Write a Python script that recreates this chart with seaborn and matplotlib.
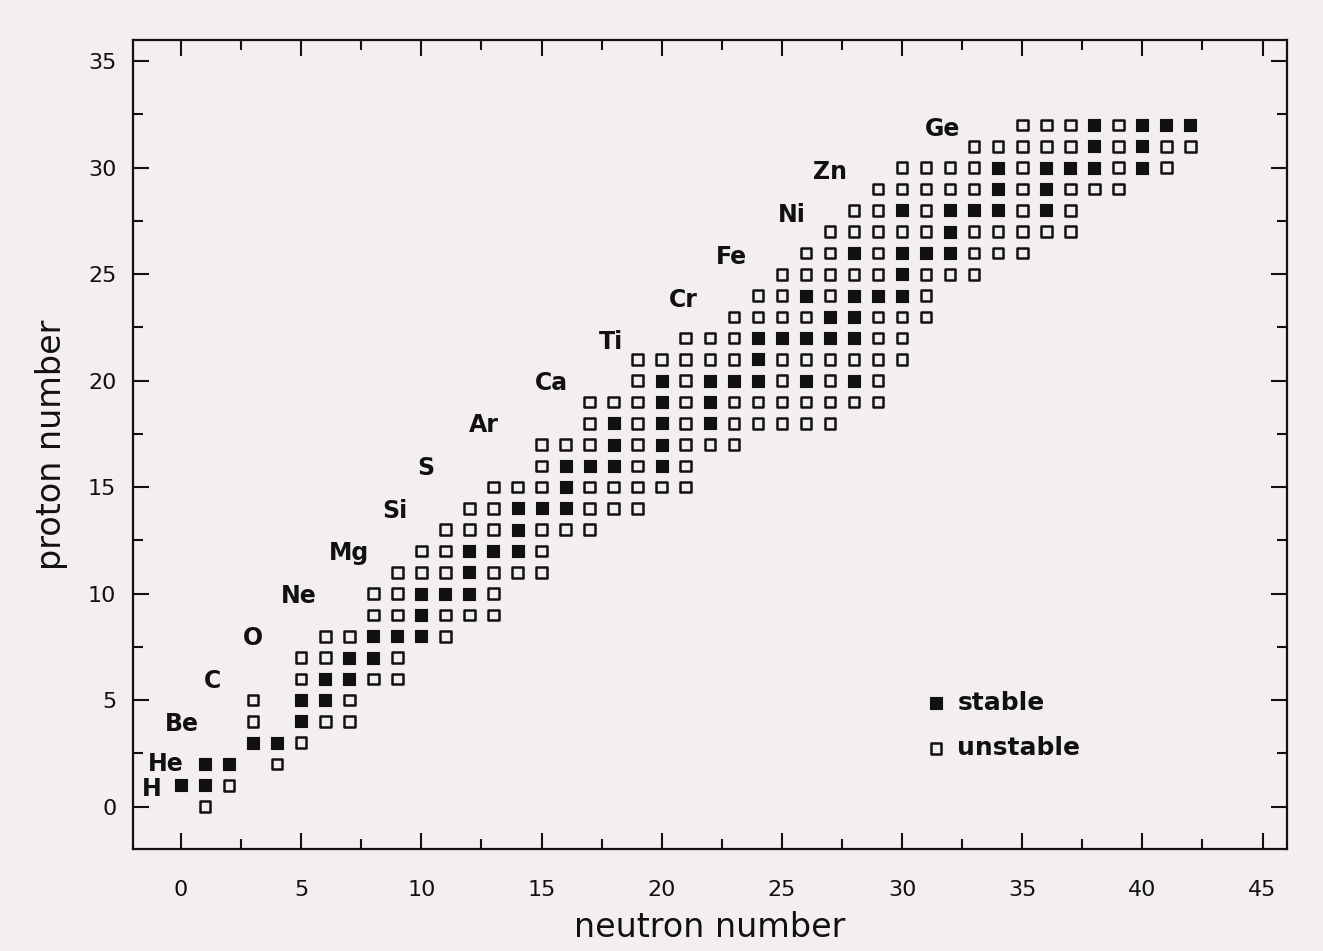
import numpy as np
import pandas as pd
import matplotlib
matplotlib.use("Agg")
import matplotlib.pyplot as plt
import seaborn as sns

# Dades: nombre de neutrons per cada Z (index = nombre de protons)
stable_n = [
    [], [0, 1], [1, 2], [3, 4], [5], [5, 6], [6, 7], [7, 8], [8, 9, 10],
    [10], [10, 11, 12], [12], [12, 13, 14], [14], [14, 15, 16], [16],
    [16, 17, 18, 20], [18, 20], [18, 20, 22], [20, 22],
    [20, 22, 23, 24, 26, 28], [24], [24, 25, 26, 27, 28], [27, 28],
    [26, 28, 29, 30], [30], [28, 30, 31, 32], [32], [30, 32, 33, 34, 36],
    [34, 36], [34, 36, 37, 38, 40], [38, 40], [38, 40, 41, 42],
]
unstable_n = [
    [1], [2], [4], [5], [3, 6, 7], [3, 7], [5, 8, 9], [5, 6, 9], [6, 7, 11],
    [8, 9, 11, 12, 13], [8, 9, 13], [9, 10, 11, 13, 14, 15], [10, 11, 15],
    [11, 12, 13, 15, 16, 17], [12, 13, 17, 18, 19],
    [13, 14, 15, 17, 18, 19, 20, 21], [15, 19, 21],
    [15, 16, 17, 19, 21, 22, 23], [17, 19, 21, 23, 24, 25, 26, 27],
    [17, 18, 19, 21, 23, 24, 25, 26, 27, 28, 29], [19, 21, 25, 27, 29],
    [19, 20, 21, 22, 23, 25, 26, 27, 28, 29, 30], [21, 22, 23, 29, 30],
    [23, 24, 25, 26, 29, 30, 31], [24, 25, 27, 31],
    [25, 26, 27, 28, 29, 31, 32, 33], [26, 27, 29, 33, 34, 35],
    [27, 28, 29, 30, 31, 33, 34, 35, 36, 37], [28, 29, 31, 35, 37],
    [29, 30, 31, 32, 33, 35, 37, 38, 39], [30, 31, 32, 33, 35, 39, 41],
    [33, 34, 35, 36, 37, 39, 41, 42], [35, 36, 37, 39],
]

# Etiquetes dels elements
elements = ["H", "He", "Be", "C", "O", "Ne", "Mg", "Si", "S", "Ar", "Ca",
            "Ti", "Cr", "Fe", "Ni", "Zn", "Ge"]
label_n = [-1.2, -0.65, 0.05, 1.3, 3.0, 4.9, 7.0, 8.9, 10.2, 12.6, 15.4,
           17.9, 20.9, 22.9, 25.4, 27.0, 31.7]
label_z = [0.85, 2.0, 3.9, 5.9, 7.9, 9.9, 11.9, 13.9, 15.9, 17.9, 19.9,
           21.8, 23.8, 25.8, 27.8, 29.8, 31.8]

# Passem a dataframes
rows = []
for z, ns in enumerate(stable_n):
    for n in ns:
        rows.append((n, z, "stable"))
for z, ns in enumerate(unstable_n):
    for n in ns:
        rows.append((n, z, "unstable"))
df = pd.DataFrame(rows, columns=["neutrons", "protons", "status"])

sns.set_style("ticks")
ink = "#111111"
plt.rcParams["font.family"] = ["DejaVu Sans"]
plt.rcParams["text.color"] = ink
plt.rcParams["axes.labelcolor"] = ink
plt.rcParams["xtick.color"] = ink
plt.rcParams["ytick.color"] = ink
paper = "#f4efef"

fig = plt.figure(figsize=(13.23, 9.51), dpi=100, facecolor=paper)
ax = fig.add_axes([0.1005, 0.107, 0.872, 0.851])
ax.set_facecolor(paper)

sns.scatterplot(data=df[df["status"] == "stable"], x="neutrons", y="protons",
                marker="s", s=85, color=ink, edgecolor=ink,
                linewidth=0.8, label="stable", ax=ax)
sns.scatterplot(data=df[df["status"] == "unstable"], x="neutrons", y="protons",
                marker="s", s=58, facecolor="none", edgecolor=ink,
                linewidth=1.8, label="unstable", ax=ax)

for name, n, z in zip(elements, label_n, label_z):
    ax.text(n, z, name, ha="center", va="center", fontsize=17,
            fontweight="bold", color=ink)

ax.set_xlim(-2, 46)
ax.set_ylim(-2, 36)
ax.set_xticks(np.arange(0, 46, 5))
ax.set_yticks(np.arange(0, 36, 5))
ax.set_xticks(np.arange(2.5, 46, 5), minor=True)
ax.set_yticks(np.arange(2.5, 36, 5), minor=True)
ax.tick_params(which="both", direction="in", top=True, right=True,
               width=1.5, color=ink)
ax.tick_params(which="major", length=11.5)
ax.tick_params(which="minor", length=7)
ax.tick_params(axis="x", which="major", pad=22, labelsize=16)
ax.tick_params(axis="y", which="major", pad=12, labelsize=16)
for sp in ax.spines.values():
    sp.set_linewidth(1.6)
    sp.set_color(ink)

ax.set_xlabel("neutron number", fontsize=24, labelpad=8)
ax.set_ylabel("proton number", fontsize=24, labelpad=14)

leg = ax.legend(loc="center left", bbox_to_anchor=(0.668, 0.153),
                frameon=False, handlelength=0.8, handletextpad=0.45,
                labelspacing=0.85, prop={"size": 18, "weight": "bold"})
for t in leg.get_texts():
    t.set_color(ink)

fig.savefig("out.png", dpi=100, facecolor=paper)
